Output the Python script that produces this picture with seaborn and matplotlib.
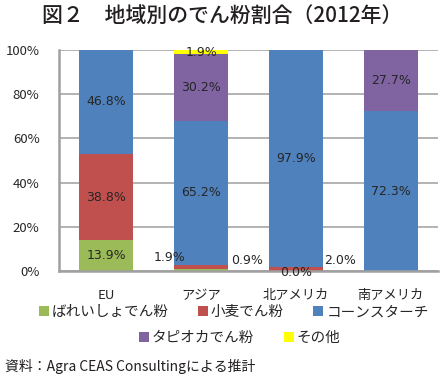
import numpy as np
import pandas as pd
import matplotlib
matplotlib.use("Agg")
import matplotlib.pyplot as plt
from matplotlib.patches import Patch
import seaborn as sns

# data (shares in %, 2012)
regions = ["EU", "アジア", "北アメリカ", "南アメリカ"]
series = ["ばれいしょでん粉", "小麦でん粉", "コーンスターチ", "タピオカでん粉", "その他"]
potato = [13.9, 0.9, 0.0, 0.0]
wheat = [38.8, 1.9, 2.0, 0.0]
corn = [46.8, 65.2, 97.9, 72.3]
tapioca = [0.0, 30.2, 0.0, 27.7]
other = [0.0, 1.9, 0.0, 0.0]
colors = ["#9BBB59", "#C0504D", "#4F81BD", "#8064A2", "#FFFF00"]

sns.set_style("white")
plt.rcParams["font.family"] = ["Noto Sans CJK JP", "DejaVu Sans"]

vals = np.array([potato, wheat, corn, tapioca, other])
share = vals / vals.sum(axis=0) * 100   # 100% stacked
cum = share.cumsum(axis=0)

fig = plt.figure(figsize=(4.45, 3.77), dpi=100)
ax = fig.add_axes([0.1326, 0.281, 0.8516, 0.5864])

# draw cumulative bars from the top series down so lower ones overlay
for i in range(len(series) - 1, -1, -1):
    df = pd.DataFrame({"region": regions, "value": cum[i]})
    sns.barplot(data=df, x="region", y="value", order=regions, color=colors[i],
                saturation=1, width=0.57, errorbar=None, linewidth=0, ax=ax)

# value labels
outside = {(0, 1): (0.48, 5.0), (1, 1): (-0.33, 6.3),
           (0, 2): (0.0, -0.7), (1, 2): (0.47, 5.0)}
for i in range(len(series)):
    for j in range(len(regions)):
        v = vals[i, j]
        if (i, j) in outside:
            dx, y = outside[(i, j)]
            ax.text(j + dx, y, f"{v:.1f}%", ha="center", va="center",
                    fontsize=9, color="#262626", family="DejaVu Sans", clip_on=False)
        elif v > 0:
            y = cum[i, j] - share[i, j] / 2
            ax.text(j, y, f"{v:.1f}%", ha="center", va="center",
                    fontsize=9, color="#262626", family="DejaVu Sans")

ax.set_ylim(0, 100)
ax.set_xlim(-0.5, 3.5)
ax.set_yticks([0, 20, 40, 60, 80, 100])
ax.set_yticklabels([f"{t}%" for t in [0, 20, 40, 60, 80, 100]])
ax.yaxis.grid(True, color="#A6A6A6", lw=1.2)
ax.set_axisbelow(True)
ax.set_xlabel("")
ax.set_ylabel("")
ax.tick_params(axis="y", length=0, pad=14, labelsize=9.5, labelcolor="#262626")
ax.tick_params(axis="x", length=0, pad=13, labelsize=9.5, labelcolor="#262626")
for s in ["top", "right"]:
    ax.spines[s].set_visible(False)
for s in ["left", "bottom"]:
    ax.spines[s].set_color("#A0A0A0")
    ax.spines[s].set_linewidth(1.8)

# legend in two rows
h = [Patch(facecolor=c, edgecolor="none") for c in colors]
kw = dict(frameon=False, fontsize=10.5, handlelength=0.7, handleheight=0.7,
          handletextpad=0.2, columnspacing=2.0, loc="center")
fig.legend(h[:3], series[:3], ncol=3, bbox_to_anchor=(0.525, 0.172), **kw)
fig.legend(h[3:], series[3:], ncol=2, bbox_to_anchor=(0.539, 0.103), **kw)

fig.text(0.499, 0.958, "図２　地域別のでん粉割合（2012年）", ha="center", va="center",
         fontsize=15, color="#231F20", weight="medium")
fig.text(0.011, 0.027, "資料：Agra CEAS Consultingによる推計", ha="left", va="center",
         fontsize=10, color="#231F20")

fig.savefig("out.png", dpi=100)
